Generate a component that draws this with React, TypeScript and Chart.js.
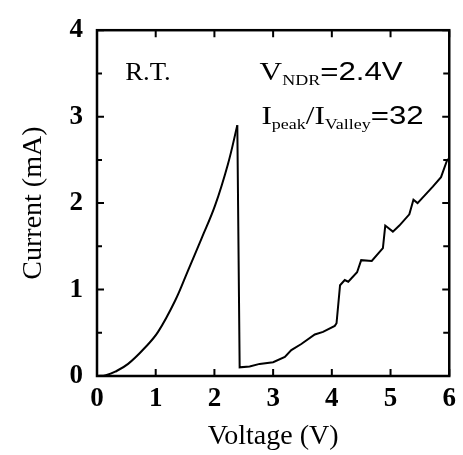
import React, { useEffect, useRef } from "react";
import { Chart, registerables } from "chart.js";

Chart.register(...registerables);

// Rising branch (0 V to the peak)
const riseVoltage = [0, 0.15, 0.31, 0.53, 0.82, 1.04, 1.33, 1.55, 1.78, 2.01, 2.23, 2.39];
const riseCurrent = [0, 0.01, 0.05, 0.14, 0.33, 0.51, 0.87, 1.22, 1.59, 1.97, 2.45, 2.9];

// Drop at V_NDR and valley branch
const valleyVoltage = [
  2.39, 2.43, 2.6, 2.77, 3.0, 3.2, 3.31, 3.48, 3.71, 3.85, 4.05, 4.08, 4.14, 4.22, 4.28,
  4.43, 4.5, 4.68, 4.87, 4.91, 5.04, 5.15, 5.32, 5.39, 5.46, 5.72, 5.86, 5.96, 6.0,
];
const valleyCurrent = [
  2.9, 0.1, 0.11, 0.14, 0.16, 0.22, 0.3, 0.37, 0.48, 0.51, 0.58, 0.61, 1.05, 1.11, 1.09,
  1.2, 1.34, 1.33, 1.48, 1.74, 1.67, 1.74, 1.87, 2.04, 2.0, 2.19, 2.3, 2.49, 2.52,
];

// Axis tick values
const xMajorTicks = [0, 1, 2, 3, 4, 5, 6];
const yMajorTicks = [0, 1, 2, 3, 4];
const yMinorTicks = [0.5, 1.5, 2.5, 3.5];

const SERIF = '"Liberation Serif", "Times New Roman", serif';
const SANS = '"Liberation Sans", Arial, sans-serif';

type Run = { text: string; font: string; dy: number };

function drawRuns(ctx: CanvasRenderingContext2D, x: number, y: number, runs: Run[], sx: number) {
  ctx.save();
  ctx.translate(x, y);
  ctx.scale(sx, 1);
  ctx.textBaseline = "alphabetic";
  ctx.textAlign = "left";
  ctx.fillStyle = "#000";
  let cx = 0;
  for (const r of runs) {
    ctx.font = r.font;
    ctx.fillText(r.text, cx, r.dy);
    cx += ctx.measureText(r.text).width;
  }
  ctx.restore();
}

const framePlugin = {
  id: "frameAndNotes",
  afterDraw(chart: any) {
    const { ctx, chartArea: a, scales } = chart;
    const xs = scales.x;
    const ys = scales.y;
    ctx.save();
    ctx.strokeStyle = "#000";
    ctx.lineWidth = 2.5;
    ctx.strokeRect(a.left, a.top, a.right - a.left, a.bottom - a.top);
    ctx.lineWidth = 2;
    ctx.beginPath();
    xMajorTicks.forEach((v) => {
      const p = xs.getPixelForValue(v);
      ctx.moveTo(p, a.bottom);
      ctx.lineTo(p, a.bottom - 7);
      ctx.moveTo(p, a.top);
      ctx.lineTo(p, a.top + 7);
    });
    yMajorTicks.forEach((v) => {
      const p = ys.getPixelForValue(v);
      ctx.moveTo(a.left, p);
      ctx.lineTo(a.left + 7, p);
      ctx.moveTo(a.right, p);
      ctx.lineTo(a.right - 7, p);
    });
    yMinorTicks.forEach((v) => {
      const p = ys.getPixelForValue(v);
      ctx.moveTo(a.left, p);
      ctx.lineTo(a.left + 5, p);
      ctx.moveTo(a.right, p);
      ctx.lineTo(a.right - 6, p);
    });
    ctx.stroke();
    ctx.restore();

    // Annotations
    drawRuns(ctx, xs.getPixelForValue(0.48), ys.getPixelForValue(3.42), [
      { text: "R.T.", font: `26px ${SERIF}`, dy: 0 },
    ], 1.03);
    drawRuns(ctx, xs.getPixelForValue(2.77), ys.getPixelForValue(3.42), [
      { text: "V", font: `26px ${SERIF}`, dy: 0 },
      { text: "NDR", font: `15px ${SERIF}`, dy: 5 },
      { text: "=2.4V", font: `26px ${SANS}`, dy: 0 },
    ], 1.2);
    drawRuns(ctx, xs.getPixelForValue(2.8), ys.getPixelForValue(2.92), [
      { text: "I", font: `26px ${SERIF}`, dy: 0 },
      { text: "peak", font: `15px ${SERIF}`, dy: 5 },
      { text: "/", font: `26px ${SERIF}`, dy: 0 },
      { text: "I", font: `26px ${SERIF}`, dy: 0 },
      { text: "Valley", font: `15px ${SERIF}`, dy: 5 },
      { text: "=32", font: `26px ${SANS}`, dy: 0 },
    ], 1.2);
  },
};

export default function App() {
  const canvasRef = useRef<HTMLCanvasElement | null>(null);

  useEffect(() => {
    document.body.style.margin = "0";
    const canvas = canvasRef.current;
    if (!canvas) return;
    const riseData = riseVoltage.map((v, i) => ({ x: v, y: riseCurrent[i] }));
    const valleyData = valleyVoltage.map((v, i) => ({ x: v, y: valleyCurrent[i] }));
    const chart = new Chart(canvas, {
      type: "line",
      data: {
        datasets: [
          {
            data: riseData,
            borderColor: "#000",
            borderWidth: 2,
            pointRadius: 0,
            tension: 0.4,
            fill: false,
          },
          {
            data: valleyData,
            borderColor: "#000",
            borderWidth: 2,
            pointRadius: 0,
            tension: 0,
            fill: false,
          },
        ],
      },
      options: {
        animation: false,
        responsive: true,
        maintainAspectRatio: false,
        layout: { padding: { top: 18, right: 12, left: 0, bottom: 0 } },
        plugins: { legend: { display: false }, tooltip: { enabled: false } },
        scales: {
          x: {
            type: "linear",
            min: 0,
            max: 6,
            ticks: {
              stepSize: 1,
              color: "#000",
              maxRotation: 0,
              padding: 7,
              font: { family: SERIF, size: 27, weight: "bold", lineHeight: 1.2 },
            },
            grid: { display: false, drawTicks: false },
            border: { display: false },
            title: {
              display: true,
              text: "Voltage (V)",
              color: "#000",
              font: { family: SERIF, size: 28, lineHeight: 1.2 },
              padding: { top: 0, bottom: 2 },
            },
            afterFit(scale: any) {
              scale.height = 79;
            },
          },
          y: {
            type: "linear",
            min: 0,
            max: 4,
            ticks: {
              stepSize: 1,
              color: "#000",
              padding: 14,
              font: { family: SERIF, size: 27, weight: "bold", lineHeight: 1.2 },
            },
            grid: { display: false, drawTicks: false },
            border: { display: false },
            title: {
              display: true,
              text: "Current (mA)",
              color: "#000",
              font: { family: SERIF, size: 28, lineHeight: 1.2 },
              padding: { top: 17, bottom: 0 },
            },
            afterFit(scale: any) {
              scale.width = 97;
            },
          },
        },
      },
      plugins: [framePlugin],
    });
    return () => chart.destroy();
  }, []);

  return (
    <div style={{ position: "fixed", left: 0, top: 0, width: 463, height: 455, background: "#fff" }}>
      <canvas ref={canvasRef} />
    </div>
  );
}
